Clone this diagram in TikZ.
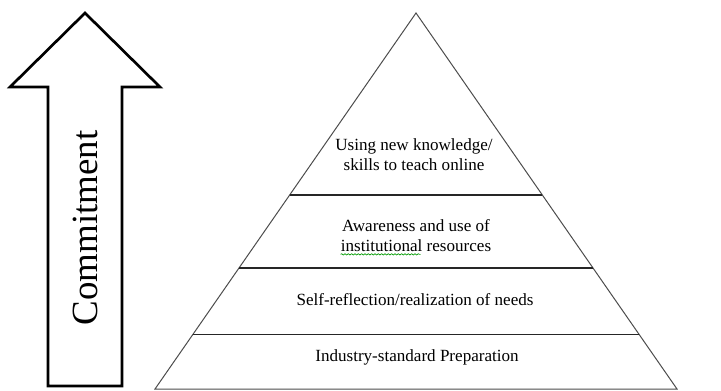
\documentclass[tikz,border=0pt]{standalone}
\usepackage{fontspec}
\setmainfont{Liberation Serif}
\usetikzlibrary{calc,decorations.pathmorphing}

\begin{document}
\begin{tikzpicture}[x=0.75pt, y=-0.75pt,
        level/.style = {font=\fontsize{12.8}{15}\selectfont, align=center, inner sep=0pt},
        side/.style = {draw=black!70, line width=0.75pt},
        layer/.style = {draw=black!85, line width=0.9pt},
        arrowline/.style = {draw, line width=2pt, line join=miter},
        spell/.style = {draw=green!60!black, line width=0.5pt, decorate, decoration={snake, amplitude=0.5pt, segment length=2.5pt}}]
    \useasboundingbox (0,0) rectangle (721,390);

    % up arrow on the left
    \coordinate (tip) at (85,13);
    \coordinate (hl) at (10,87);
    \coordinate (hr) at (160,87);
    \coordinate (sl) at (48,87);
    \coordinate (sr) at (122,87);
    \coordinate (bl) at (48,386);
    \coordinate (br) at (122,386);
    \draw[arrowline] (tip) -- (hr) -- (sr) -- (br) -- (bl) -- (sl) -- (hl) -- cycle;
    \node[rotate=90, inner sep=0pt, font=\fontsize{27.7}{30}\selectfont] (commit) at (85.5,228) {Commitment};

    % pyramid
    \coordinate (apex) at (416,13);
    \coordinate (left) at (155,389);
    \coordinate (right) at (677,389);
    \draw[side] (left) -- (apex) -- (right) -- cycle;

    \coordinate (1a) at ($(apex)!0.484!(left)$);
    \coordinate (1b) at ($(apex)!0.484!(right)$);
    \coordinate (2a) at ($(apex)!0.678!(left)$);
    \coordinate (2b) at ($(apex)!0.678!(right)$);
    \coordinate (3a) at ($(apex)!0.855!(left)$);
    \coordinate (3b) at ($(apex)!0.855!(right)$);
    \draw[layer] (1a) -- (1b);
    \draw[layer] (2a) -- (2b);
    \draw[layer] (3a) -- (3b);

    \node[level] (use) at (414,155) {Using new knowledge/\\skills to teach online};
    \node[level] (aware) at (416,236) {Awareness and use of\\institutional resources};
    \node[level] (self) at (415,300) {Self-reflection/realization of needs};
    \node[level] (prep) at (417,357) {Industry-standard Preparation};

    \draw[spell] ([yshift=-1.5pt]aware.south west) -- ++(80,0);

\end{tikzpicture}
\end{document}
